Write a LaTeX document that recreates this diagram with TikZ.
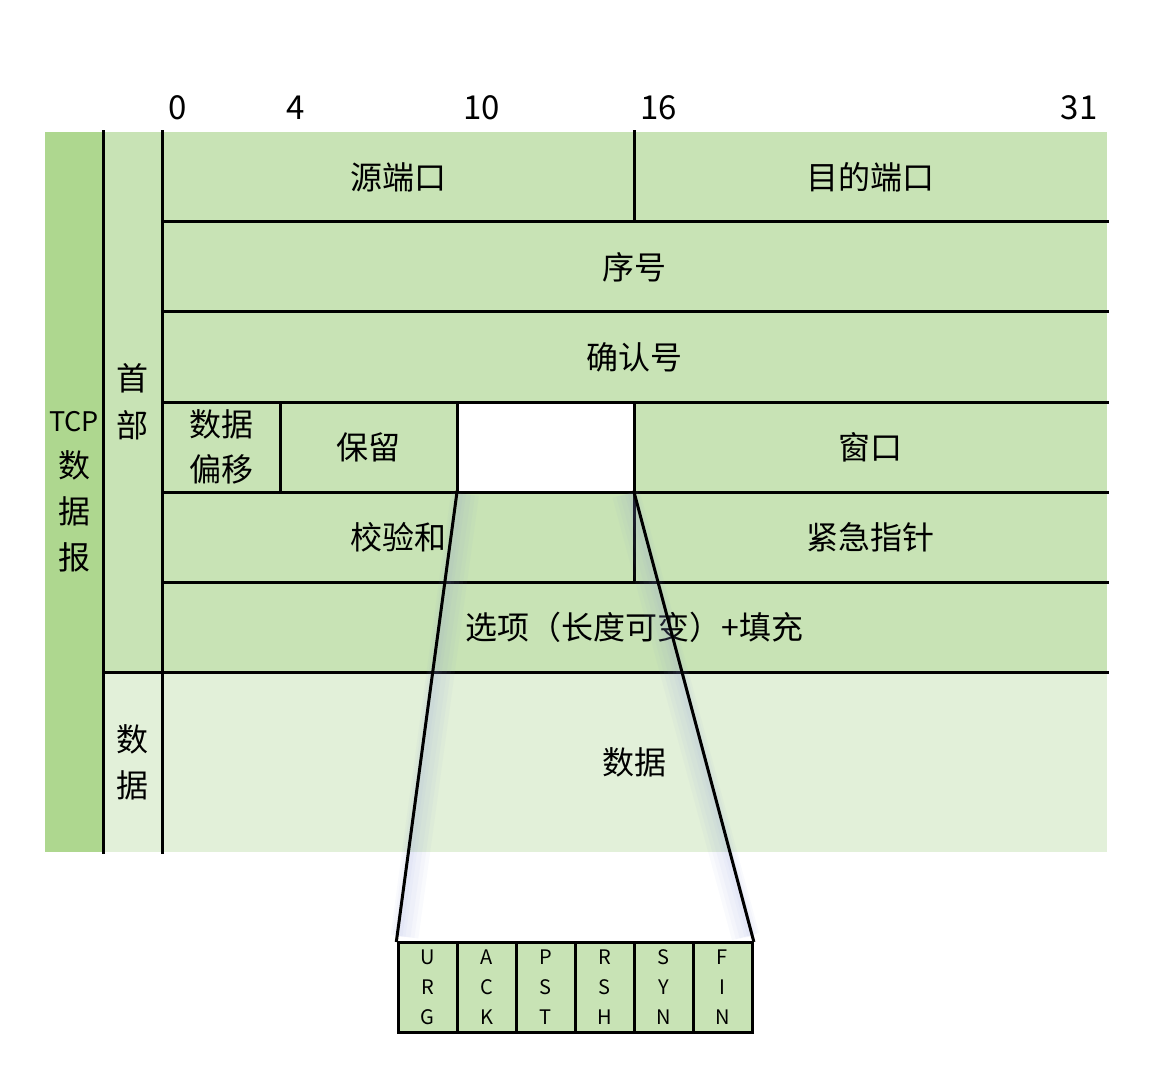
\documentclass[tikz,border=0pt]{standalone}
\usepackage{fontspec}
\setmainfont{Noto Sans CJK SC}
\usetikzlibrary{positioning, calc}
\usepackage{xcolor}
\definecolor{tcpdark}{HTML}{AED78F}
\definecolor{tcpmid}{HTML}{C8E3B5}
\definecolor{tcplight}{HTML}{E2F0D9}
\definecolor{tcpglow}{HTML}{8C98D8}

\begin{document}
\begin{tikzpicture}[x=0.5pt, y=-0.5pt,
    cell/.style={fill=tcpmid, inner sep=0pt, outer sep=0pt, align=center,
                 font=\fontsize{16}{22.5}\selectfont, minimum height=45pt},
    bitnum/.style={anchor=west, inner sep=0pt, font=\fontsize{16.5}{20}\selectfont},
    flagbox/.style={draw=black, line width=1.5pt, fill=tcpmid, inner sep=0pt,
                    minimum width=29.5pt, minimum height=45pt, align=center,
                    font=\fontsize{10}{15}\selectfont},
    edge/.style={line width=1.5pt, line cap=rect},
    glow/.style={draw=tcpglow, line width=#1, opacity=0.05}]
  \useasboundingbox (0,0) rectangle (1151,1075);

  % left columns
  \node[cell, fill=tcpdark, minimum width=29pt, minimum height=360pt,
        font=\fontsize{16}{23}\selectfont] (tcp) at (74,492)
        {{\fontsize{13.5}{23}\selectfont TCP}\\数\\据\\报};
  \node[cell, minimum width=29.5pt, minimum height=270pt,
        font=\fontsize{16}{23.5}\selectfont] (hdr) at (132.5,402) {首\\部};
  \node[cell, fill=tcplight, minimum width=29.5pt, minimum height=90pt,
        font=\fontsize{16}{23}\selectfont] (dat) at (132.5,762) {数\\据};

  % header fields
  \node[cell, minimum width=236pt] (src) at (398,177) {源端口};
  \node[cell, minimum width=236.5pt] (dst) at (870.5,177) {目的端口};
  \node[cell, minimum width=472.5pt] (seq) at (634.5,267) {序号};
  \node[cell, minimum width=472.5pt] (ack) at (634.5,357) {确认号};
  \node[cell, minimum width=59pt] (off) at (221,447) {数据\\偏移};
  \node[cell, minimum width=88.5pt] (rsv) at (368.5,447) {保留};
  \node[cell, fill=white, minimum width=88.5pt] (flg) at (545.5,447) {};
  \node[cell, minimum width=236.5pt] (win) at (870.5,447) {窗口};
  \node[cell, minimum width=236pt] (chk) at (398,537) {校验和};
  \node[cell, minimum width=236.5pt] (urg) at (870.5,537) {紧急指针};
  \node[cell, minimum width=472.5pt] (opt) at (634.5,627) {选项（长度可变）+填充};
  \node[cell, fill=tcplight, minimum width=472.5pt, minimum height=90pt] (data) at (634.5,762) {数据};

  % bit positions
  \node[bitnum] (b0) at (168,108) {0};
  \node[bitnum] (b4) at (286,108) {4};
  \node[bitnum] (b10) at (463,108) {10};
  \node[bitnum] (b16) at (640,108) {16};
  \node[bitnum, anchor=east] (b31) at (1098,108) {31};

  % grid lines
  \draw[edge] (tcp.north east) -- (tcp.south east);
  \draw[edge] (hdr.north east) -- (dat.south east);
  \draw[edge] (src.south west) -- (dst.south east);
  \draw[edge] (seq.south west) -- (seq.south east);
  \draw[edge] (ack.south west) -- (ack.south east);
  \draw[edge] (off.south west) -- (win.south east);
  \draw[edge] (chk.south west) -- (urg.south east);
  \draw[edge] (hdr.south west) -- (opt.south east);
  \draw[edge] (src.north east) -- (src.south east);
  \draw[edge] (off.north east) -- (off.south east);
  \draw[edge] (rsv.north east) -- (rsv.south east);
  \draw[edge] (flg.north east) -- (chk.south east);

  % flag bits
  \foreach \f/\txt [count=\i] in {urg/U\\R\\G, ackf/A\\C\\K, psh/P\\S\\T,
                                   rst/R\\S\\H, syn/S\\Y\\N, fin/F\\I\\N}
    \node[flagbox] (\f) at ({398+59*\i-29.5},987) {\txt};

  % soft shadow of the zoom lines
  \foreach \w/\d in {14pt/8, 11pt/7, 8pt/6, 5pt/4, 3pt/3} {
    \draw[glow=\w] ($(flg.south west)+(\d,2)$) -- ($(urg.north west)+(\d,-4)$);
    \draw[glow=\w] ($(flg.south east)+(-\d,2)$) -- ($(fin.north east)+(-\d,-4)$);
  }
  \draw[edge] (flg.south west) -- (urg.north west);
  \draw[edge] (flg.south east) -- (fin.north east);
\end{tikzpicture}
\end{document}
